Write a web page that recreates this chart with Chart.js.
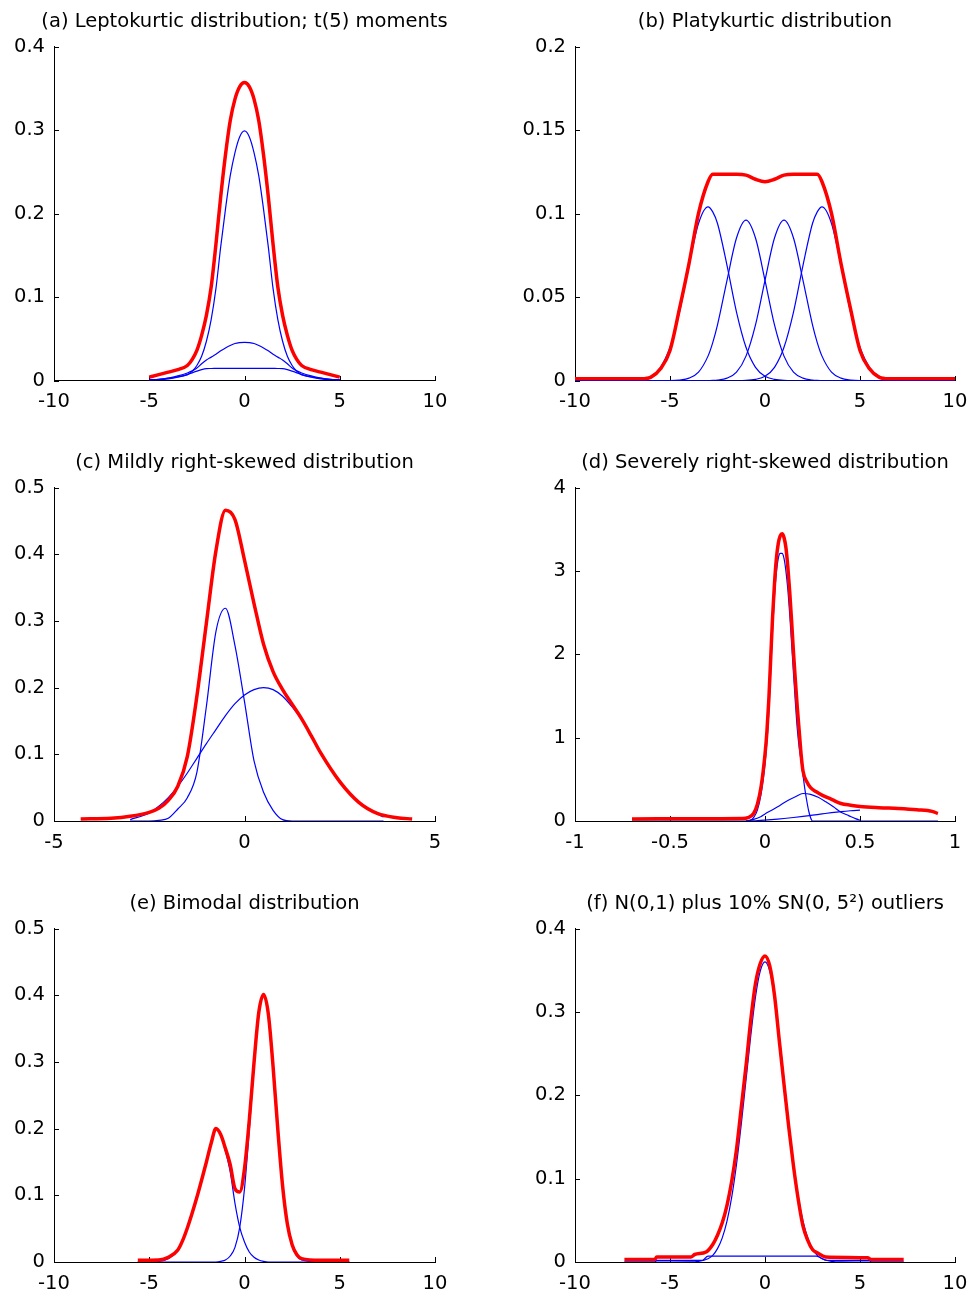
<!DOCTYPE html>
<html>
<head>
<meta charset="utf-8">
<script src="https://cdn.jsdelivr.net/npm/chart.js@4.4.1/dist/chart.umd.min.js"></script>
<style>
  html, body { margin: 0; padding: 0; background: #fff; width: 969px; height: 1295px; overflow: hidden; position: relative; }
  canvas.panel { position: absolute; }
</style>
</head>
<body>
<canvas id="panelA" class="panel" width="489" height="441" style="left:0px;top:0px"></canvas>
<canvas id="panelB" class="panel" width="562" height="441" style="left:484px;top:0px"></canvas>
<canvas id="panelC" class="panel" width="489" height="441" style="left:0px;top:441px"></canvas>
<canvas id="panelD" class="panel" width="562" height="441" style="left:484px;top:441px"></canvas>
<canvas id="panelE" class="panel" width="489" height="413" style="left:0px;top:882px"></canvas>
<canvas id="panelF" class="panel" width="562" height="413" style="left:484px;top:882px"></canvas>
<script>
// (a) leptokurtic: mixture total and its three normal parts
const xA = [-5, -4.5, -4, -3.5, -3, -2.75, -2.5, -2.25, -2, -1.75, -1.5, -1.25, -1, -0.75, -0.5, -0.25, 0,
            0.25, 0.5, 0.75, 1, 1.25, 1.5, 1.75, 2, 2.25, 2.5, 2.75, 3, 3.5, 4, 4.5, 5];
const totalA = [.004, .007, .010, .013, .018, .025, .036, .054, .078, .112, .163, .220, .270, .311, .337, .352, .357,
                .352, .337, .311, .270, .220, .163, .112, .078, .054, .036, .025, .018, .013, .010, .007, .004];
const narrowA = [.0005, .001, .002, .004, .007, .011, .018, .029, .047, .073, .110, .160, .205, .245, .273, .292, .299,
                 .292, .273, .245, .205, .160, .110, .073, .047, .029, .018, .011, .007, .004, .002, .001, .0005];
const middleA = [.0007, .0015, .003, .0055, .009, .0115, .015, .020, .0245, .028, .0315, .0355, .039, .042, .0443, .0453, .0457,
                 .0453, .0443, .042, .039, .0355, .0315, .028, .0245, .020, .015, .0115, .009, .0055, .003, .0015, .0007];
const flatA = [.0008, .0015, .0028, .0045, .007, .0092, .0112, .013, .0142, .0144, .0145, .0146, .0146, .0146, .0146, .0146, .0146,
               .0146, .0146, .0146, .0146, .0146, .0145, .0144, .0142, .013, .0112, .0092, .007, .0045, .0028, .0015, .0008];

// (b) platykurtic: four equal-spaced normals
const xB = [-10, -8, -6.5, -6, -5.5, -5, -4.5, -4, -3.5, -3, -2.75, -2.5, -2, -1.5, -1, -0.5, 0,
            0.5, 1, 1.5, 2, 2.5, 2.75, 3, 3.5, 4, 4.5, 5, 5.5, 6, 6.5, 8, 10];
const totalB = [.001, .001, .001, .002, .007, .018, .043, .070, .100, .119, .1235, .1235, .1235, .1235, .123, .1205, .119,
                .1205, .123, .1235, .1235, .1235, .1235, .119, .100, .070, .043, .018, .007, .002, .001, .001, .001];
const compB1 = [0, 0, .0007, .0025, .0079, .0199, .041, .069, .094, .104, .101, .094, .069, .041, .0199, .0079, .0025,
                .0007, .0001, 0, 0, 0, 0, 0, 0, 0, 0, 0, 0, 0, 0, 0, 0];
const compB2 = [0, 0, 0, 0, 0, 0, .0003, .0014, .005, .0146, .0227, .0333, .060, .0853, .096, .0853, .060,
                .0333, .0146, .005, .0014, .0003, .0001, 0, 0, 0, 0, 0, 0, 0, 0, 0, 0];
const compB3 = [0, 0, 0, 0, 0, 0, 0, 0, 0, 0, .0001, .0003, .0014, .005, .0146, .0333, .060,
                .0853, .096, .0853, .060, .0333, .0227, .0146, .005, .0014, .0003, 0, 0, 0, 0, 0, 0];
const compB4 = [0, 0, 0, 0, 0, 0, 0, 0, 0, 0, 0, 0, 0, 0, .0001, .0007, .0025,
                .0079, .0199, .041, .069, .094, .101, .104, .094, .069, .041, .0199, .0079, .0025, .0007, 0, 0];

// (c) mildly right-skewed
const xC = [-4.3, -3.5, -3, -2.5, -2.25, -2, -1.75, -1.5, -1.25, -1, -0.75, -0.5, -0.25, 0,
            0.25, 0.5, 0.75, 1, 1.25, 1.5, 1.75, 2, 2.5, 3, 3.5, 4, 4.4];
const totalC = [.003, .004, .007, .013, .019, .031, .052, .097, .187, .297, .405, .466, .452, .391,
                .326, .265, .224, .197, .175, .153, .128, .102, .059, .028, .011, .005, .003];
const xCParts = [-3, -2.5, -2.25, -2, -1.75, -1.5, -1.25, -1, -0.75, -0.5, -0.25, 0,
                 0.25, 0.5, 0.75, 1, 1.25, 1.5, 1.75, 2, 2.5, 3, 3.5, 3.65];
const narrowC = [0, 0, .001, .004, .018, .035, .073, .172, .284, .319, .263, .179,
                 .090, .043, .016, .002, 0, 0, 0, 0, 0, 0, 0, 0];
const wideC = [.002, .012, .022, .035, .052, .072, .094, .116, .137, .158, .176, .189,
               .197, .200, .197, .187, .171, .152, .127, .101, .059, .028, .010, .006];

// (d) severely right-skewed
const xD = [-0.7, -0.3, -0.12, -0.09, -0.06, -0.04, -0.02, 0, 0.01, 0.02, 0.03, 0.04, 0.05, 0.06, 0.07, 0.08, 0.09,
            0.1, 0.11, 0.12, 0.13, 0.14, 0.15, 0.16, 0.17, 0.18, 0.19, 0.2, 0.22, 0.24, 0.27, 0.3, 0.35, 0.4,
            0.45, 0.5, 0.6, 0.7, 0.8, 0.88, 0.91];
const totalD = [.025, .028, .03, .04, .09, .20, .42, .80, 1.07, 1.45, 1.95, 2.45, 2.85, 3.15, 3.33, 3.42, 3.445,
                3.40, 3.28, 3.05, 2.75, 2.4, 2.02, 1.68, 1.36, 1.08, .80, .60, .47, .40, .35, .31, .26, .21,
                .19, .175, .16, .15, .135, .115, .09];
const xDNarrow = [-0.7, -0.1, -0.08, -0.06, -0.04, -0.02, 0, 0.01, 0.02, 0.03, 0.04, 0.05, 0.06, 0.07, 0.08, 0.09,
                  0.1, 0.11, 0.12, 0.13, 0.14, 0.15, 0.16, 0.17, 0.18, 0.19, 0.2, 0.21, 0.22, 0.23, 0.24, 0.25, 0.91];
const narrowD = [0, 0, .005, .04, .13, .33, .68, .95, 1.3, 1.8, 2.3, 2.7, 2.98, 3.15, 3.21, 3.21,
                 3.15, 3.0, 2.78, 2.48, 2.13, 1.77, 1.42, 1.1, .88, .72, .55, .38, .24, .12, .04, 0, 0];
const xDMid = [-0.1, -0.06, -0.02, 0, 0.04, 0.08, 0.12, 0.16, 0.2, 0.24, 0.28, 0.32, 0.36, 0.4, 0.44, 0.48, 0.5];
const midD = [0, .02, .055, .085, .135, .19, .245, .29, .33, .32, .285, .23, .17, .105, .065, .025, .01];
const xDLow = [-0.1, -0.05, 0, 0.05, 0.1, 0.15, 0.2, 0.25, 0.3, 0.35, 0.4, 0.45, 0.5];
const lowD = [0, .003, .01, .02, .03, .042, .055, .07, .085, .1, .113, .123, .13];

// (e) bimodal
const xE = [-5.6, -4.5, -4, -3.5, -3.25, -3, -2.75, -2.5, -2.25, -2, -1.75, -1.5, -1.25, -1, -0.75, -0.5,
            -0.25, 0, 0.25, 0.5, 0.75, 1, 1.25, 1.5, 1.75, 2, 2.25, 2.5, 2.75, 3, 4, 5.5];
const totalE = [.0025, .003, .007, .018, .032, .051, .073, .097, .123, .150, .178, .200, .191, .170, .146, .110,
                .105, .140, .212, .299, .374, .401, .372, .293, .198, .114, .057, .026, .011, .005, .0025, .0025];
const leftE = [0, .001, .005, .017, .031, .050, .072, .096, .122, .149, .177, .199, .190, .166, .135, .088,
               .052, .030, .015, .007, .003, .001, 0, 0, 0, 0, 0, 0, 0, 0, 0, 0];
const rightE = [0, 0, 0, 0, 0, 0, 0, 0, 0, 0, 0, 0, .001, .003, .009, .022,
                .052, .110, .197, .292, .371, .400, .371, .292, .197, .113, .055, .024, .009, .003, 0, 0];

// (f) N(0,1) with 10% skew-normal outliers
const xF = [-7.4, -5.8, -5.7, -3.9, -3.7, -3.1, -2.75, -2.5, -2.25, -2, -1.75, -1.5, -1.25, -1, -0.75, -0.5, -0.25, 0,
            0.25, 0.5, 0.75, 1, 1.25, 1.5, 1.75, 2, 2.25, 2.5, 2.75, 3.2, 5.4, 5.6, 7.3];
const totalF = [.003, .003, .006, .006, .009, .012, .021, .032, .047, .068, .097, .135, .185, .235, .290, .334, .358, .367,
                .355, .320, .266, .213, .162, .115, .075, .043, .026, .015, .011, .006, .005, .003, .003];
const xFMain = [-7.4, -5, -4, -3.5, -3, -2.75, -2.5, -2.25, -2, -1.75, -1.5, -1.25, -1, -0.75, -0.5, -0.25, 0,
                0.25, 0.5, 0.75, 1, 1.25, 1.5, 1.75, 2, 2.25, 2.5, 2.75, 3, 3.5, 4, 5, 7.3];
const mainF = [0, 0, .0001, .0008, .004, .008, .016, .029, .049, .078, .117, .165, .218, .271, .318, .349, .36,
               .349, .318, .271, .218, .165, .117, .078, .049, .029, .016, .008, .004, .0008, .0001, 0, 0];
const xFOut = [-7.4, -5.8, -5.7, -3.3, -3.0, 2.7, 3.25, 5.5, 5.6, 7.3];
const outF = [0, 0, .002, .002, .007, .007, .002, .002, 0, 0];

const RED = '#ff0000';
const BLUE = '#0000ff';

Chart.defaults.font.family = '"DejaVu Sans", sans-serif';
Chart.defaults.font.size = 19.5;
Chart.defaults.color = '#000';

// small tick marks pointing into the plot, drawn from the scales' own ticks
const inwardTicks = {
  id: 'inwardTicks',
  beforeDatasetsDraw(chart) {
    const {ctx, chartArea, scales} = chart;
    const x = scales.x, y = scales.y;
    ctx.save();
    ctx.strokeStyle = '#000';
    ctx.lineWidth = 1;
    ctx.beginPath();
    x.ticks.forEach(t => {
      const px = Math.round(x.getPixelForValue(t.value)) + 0.5;
      ctx.moveTo(px, Math.round(chartArea.bottom));
      ctx.lineTo(px, Math.round(chartArea.bottom) - 5);
    });
    y.ticks.forEach(t => {
      const py = Math.round(y.getPixelForValue(t.value)) + 0.5;
      ctx.moveTo(Math.round(chartArea.left), py);
      ctx.lineTo(Math.round(chartArea.left) + 5, py);
    });
    ctx.stroke();
    ctx.restore();
  }
};

// plain number labels: 0.2 not 0.20, 1 not 1.0
const plainLabel = v => String(Number(v.toFixed(6)));

function pts(xs, ys) {
  return xs.map((x, i) => ({x: x, y: ys[i]}));
}

function line(xs, ys, color) {
  return {
    data: pts(xs, ys),
    borderColor: color,
    borderWidth: color === RED ? 3.5 : 1.2,
    pointRadius: 0,
    fill: false,
    cubicInterpolationMode: 'monotone',
    yAxisID: 'y'
  };
}

function panel(id, p) {
  new Chart(document.getElementById(id), {
    type: 'line',
    data: { datasets: p.datasets },
    options: {
      responsive: false,
      animation: false,
      events: [],
      layout: { padding: 0 },
      plugins: {
        legend: { display: false },
        tooltip: { enabled: false },
        title: {
          display: true,
          text: p.title,
          color: '#000',
          font: { size: 19.5, weight: 'normal' },
          padding: { top: 10, bottom: 13.1 }
        }
      },
      scales: {
        x: {
          type: 'linear',
          min: p.xMin, max: p.xMax,
          ticks: { stepSize: p.xStep, autoSkip: false, maxRotation: 0, padding: 10, color: '#000', callback: plainLabel },
          grid: { display: false, drawTicks: false },
          border: { display: true, color: '#000', width: 1 },
          afterFit: s => { s.height = p.xHeight; }
        },
        y: {
          type: 'linear',
          min: 0, max: p.yMax,
          ticks: { stepSize: p.yStep, padding: 9, color: '#000', callback: plainLabel },
          grid: { display: false, drawTicks: false },
          border: { display: true, color: '#000', width: 1 },
          afterFit: s => { s.width = p.side; }
        },
        yRight: {
          type: 'linear',
          position: 'right',
          ticks: { display: false },
          grid: { display: false, drawTicks: false },
          border: { display: false },
          afterFit: s => { s.width = p.side; }
        }
      }
    },
    plugins: [inwardTicks]
  });
}

panel('panelA', {
  title: '(a) Leptokurtic distribution; t(5) moments',
  xMin: -10, xMax: 10, xStep: 5, yMax: 0.4, yStep: 0.1, side: 54, xHeight: 60.5,
  datasets: [line(xA, totalA, RED), line(xA, narrowA, BLUE), line(xA, middleA, BLUE), line(xA, flatA, BLUE)]
});

panel('panelB', {
  title: '(b) Platykurtic distribution',
  xMin: -10, xMax: 10, xStep: 5, yMax: 0.2, yStep: 0.05, side: 91, xHeight: 60.5,
  datasets: [line(xB, totalB, RED), line(xB, compB1, BLUE), line(xB, compB2, BLUE),
             line(xB, compB3, BLUE), line(xB, compB4, BLUE)]
});

panel('panelC', {
  title: '(c) Mildly right-skewed distribution',
  xMin: -5, xMax: 5, xStep: 5, yMax: 0.5, yStep: 0.1, side: 54, xHeight: 61,
  datasets: [line(xC, totalC, RED), line(xCParts, narrowC, BLUE), line(xCParts, wideC, BLUE)]
});

panel('panelD', {
  title: '(d) Severely right-skewed distribution',
  xMin: -1, xMax: 1, xStep: 0.5, yMax: 4, yStep: 1, side: 91, xHeight: 61,
  datasets: [line(xD, totalD, RED), line(xDNarrow, narrowD, BLUE), line(xDMid, midD, BLUE), line(xDLow, lowD, BLUE)]
});

panel('panelE', {
  title: '(e) Bimodal distribution',
  xMin: -10, xMax: 10, xStep: 5, yMax: 0.5, yStep: 0.1, side: 54, xHeight: 33,
  datasets: [line(xE, totalE, RED), line(xE, leftE, BLUE), line(xE, rightE, BLUE)]
});

panel('panelF', {
  title: '(f) N(0,1) plus 10% SN(0, 5²) outliers',
  xMin: -10, xMax: 10, xStep: 5, yMax: 0.4, yStep: 0.1, side: 91, xHeight: 33,
  datasets: [line(xF, totalF, RED), line(xFMain, mainF, BLUE), line(xFOut, outF, BLUE)]
});
</script>
</body>
</html>
